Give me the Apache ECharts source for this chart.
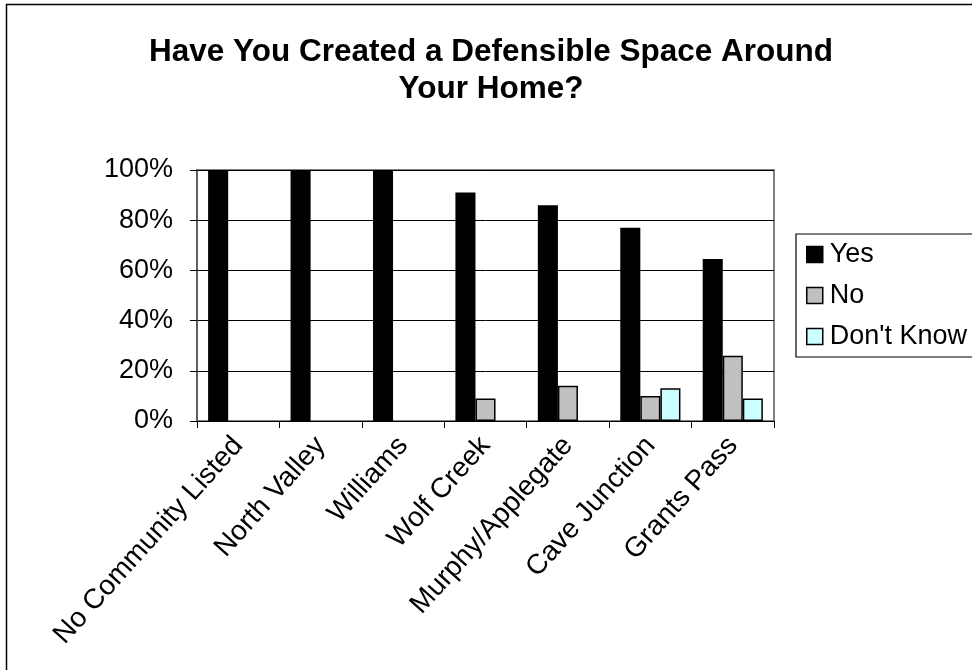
<!DOCTYPE html>
<html>
<head>
<meta charset="utf-8">
<script src="https://cdn.jsdelivr.net/npm/echarts@6/dist/echarts.min.js"></script>
<style>
  html, body { margin: 0; padding: 0; background: #fff; }
  #chart { width: 972px; height: 670px; }
</style>
</head>
<body>
<div id="chart"></div>
<script>
// Survey responses by community (percent of respondents)
const communities = ['No Community Listed', 'North Valley', 'Williams', 'Wolf Creek', 'Murphy/Applegate', 'Cave Junction', 'Grants Pass'];
const yesValues = [100, 100, 100, 91, 86, 77, 64.5];
const noValues = [0, 0, 0, 9, 14, 10, 26];
const dontKnowValues = [0, 0, 0, 0, 0, 13, 9];
const seriesNames = ['Yes', 'No', "Don't Know"];
const seriesColors = ['#000000', '#c0c0c0', '#ccffff'];
const titleText = 'Have You Created a Defensible Space Around\nYour Home?';

const FONT = "'Liberation Sans', Arial, sans-serif";

const chart = echarts.init(document.getElementById('chart'));

function barSeries(name, values, color) {
  return {
    name: name,
    type: 'bar',
    data: values.map(v => (v === 0 ? null : v)),
    barGap: '0%',
    barCategoryGap: '27%',
    itemStyle: { color: color, borderColor: '#000', borderWidth: 1.5 },
    emphasis: { disabled: true }
  };
}

chart.setOption({
  animation: false,
  backgroundColor: '#fff',
  textStyle: { fontFamily: FONT },
  title: {
    text: titleText,
    left: 486,
    textAlign: 'center',
    top: 29,
    textStyle: { fontFamily: FONT, fontSize: 31.5, fontWeight: 'bold', color: '#000', lineHeight: 37 }
  },
  graphic: [{
    type: 'rect',
    shape: { x: 6.5, y: 4.5, width: 1000, height: 700 },
    style: { fill: null, stroke: '#000', lineWidth: 1.5 },
    silent: true
  }],
  legend: {
    orient: 'vertical',
    left: 796,
    top: 234,
    padding: [7, 30, 7, 10],
    borderColor: '#000',
    borderWidth: 1.2,
    itemGap: 14,
    itemWidth: 16,
    itemHeight: 16,
    icon: 'rect',
    selectedMode: false,
    itemStyle: { borderColor: '#000', borderWidth: 1.5 },
    textStyle: { fontFamily: FONT, fontSize: 27, color: '#000', lineHeight: 27, padding: [0, 0, 0, 2] },
    data: seriesNames
  },
  grid: {
    left: 197,
    top: 170,
    width: 577,
    height: 251,
    show: true,
    borderColor: '#808080',
    borderWidth: 2,
    backgroundColor: '#fff'
  },
  xAxis: {
    type: 'category',
    data: communities,
    axisLine: { lineStyle: { color: '#000', width: 1 } },
    axisTick: { show: true, length: 7, inside: false, lineStyle: { color: '#000' } },
    axisLabel: { rotate: 48, margin: 20, fontSize: 28, color: '#000', fontFamily: FONT, interval: 0 },
    splitLine: { show: false }
  },
  yAxis: {
    type: 'value',
    min: 0,
    max: 100,
    interval: 20,
    axisLine: { show: true, lineStyle: { color: '#555', width: 1.5 } },
    axisTick: { show: true, length: 7, inside: false, lineStyle: { color: '#000' } },
    axisLabel: { formatter: '{value}%', margin: 24, fontSize: 27, color: '#000', fontFamily: FONT },
    splitLine: { show: true, lineStyle: { color: '#000', width: 1 } }
  },
  series: [
    barSeries(seriesNames[0], yesValues, seriesColors[0]),
    barSeries(seriesNames[1], noValues, seriesColors[1]),
    barSeries(seriesNames[2], dontKnowValues, seriesColors[2])
  ]
});
</script>
</body>
</html>
